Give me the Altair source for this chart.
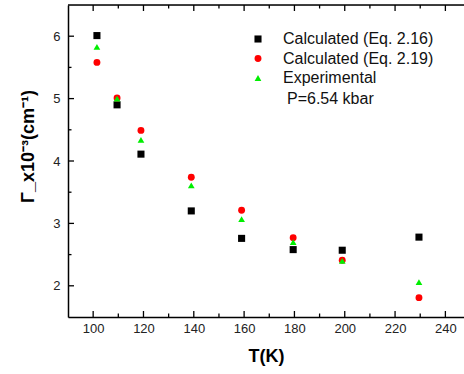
import altair as alt
import pandas as pd

# Linewidth Γ versus temperature at P = 6.54 kbar
temps = [101.5, 109.5, 119, 139, 159, 179.5, 199, 229.5]
eq216 = [6.01, 4.90, 4.11, 3.20, 2.76, 2.58, 2.57, 2.78]
eq219 = [5.58, 5.01, 4.49, 3.74, 3.21, 2.77, 2.41, 1.81]
experimental = [5.83, 5.00, 4.34, 3.61, 3.07, 2.70, 2.40, 2.06]

series_names = ["Calculated (Eq. 2.16)", "Calculated (Eq. 2.19)", "Experimental"]
series_colors = ["#000000", "#ff0000", "#00ee00"]
series_shapes = ["square", "circle", "triangle-up"]
series_sizes = [50, 45, 90]
pressure_note = ["P=6.54 kbar"]

x_major = [100, 120, 140, 160, 180, 200, 220, 240]
x_minor = [110, 130, 150, 170, 190, 210, 230]
y_major = [2, 3, 4, 5, 6]
y_minor = [2.5, 3.5, 4.5, 5.5]

W, H = 396, 312
FONT = "Liberation Sans"

rows = []
for name, vals in zip(series_names, [eq216, eq219, experimental]):
    for t, v in zip(temps, vals):
        rows.append({"T": t, "G": v, "series": name})
df = pd.DataFrame(rows)

xscale = alt.Scale(domain=[90, 247.4], nice=False, zero=False)
yscale = alt.Scale(domain=[1.5, 6.5], nice=False, zero=False)

legend = alt.Legend(
    title=None, orient="none", legendX=182, legendY=26,
    symbolSize=40, labelFontSize=16, labelFont=FONT, labelColor="#111",
    labelOffset=17, rowPadding=3.5, symbolStrokeWidth=0,
)

x_axis = alt.Axis(
    values=x_major, format="d", ticks=False, grid=False,
    domainColor="black", domainWidth=1.5,
    labelFontSize=13, labelColor="#222", labelPadding=5, labelFont=FONT,
    title="T(K)", titleFontSize=18, titleFontWeight="bold", titleFont=FONT,
    titlePadding=12, titleColor="black")
y_axis = alt.Axis(
    values=y_major, format="d", ticks=False, grid=False,
    domainColor="black", domainWidth=1.5,
    labelFontSize=13, labelColor="#222", labelPadding=8, labelFont=FONT,
    title="Γ_x10⁻³(cm⁻¹)", titleFontSize=18, titleFontWeight="bold",
    titleFont=FONT, titleColor="black", titleAngle=-90,
    titleX=-35, titleY=141, titleAlign="center", titleBaseline="alphabetic")

points = alt.Chart(df).mark_point(filled=True, opacity=1).encode(
    x=alt.X("T:Q", scale=xscale, axis=x_axis),
    y=alt.Y("G:Q", scale=yscale, axis=y_axis),
    color=alt.Color("series:N", scale=alt.Scale(domain=series_names, range=series_colors), legend=legend),
    shape=alt.Shape("series:N", scale=alt.Scale(domain=series_names, range=series_shapes), legend=legend),
    size=alt.Size("series:N", scale=alt.Scale(domain=series_names, range=series_sizes), legend=None),
)

def xticks(vals, length):
    d = pd.DataFrame({"T": vals})
    bottom = alt.Chart(d).mark_rule(color="black", strokeWidth=1.3).encode(
        x=alt.X("T:Q", scale=xscale, axis=x_axis), y=alt.value(H), y2=alt.value(H - length))
    top = alt.Chart(d).mark_rule(color="black", strokeWidth=1.3).encode(
        x=alt.X("T:Q", scale=xscale, axis=x_axis), y=alt.value(0), y2=alt.value(length))
    return [bottom, top]

def yticks(vals, length):
    d = pd.DataFrame({"G": vals})
    return [alt.Chart(d).mark_rule(color="black", strokeWidth=1.3).encode(
        y=alt.Y("G:Q", scale=yscale, axis=y_axis), x=alt.value(0), x2=alt.value(length))]

top_line = alt.Chart(pd.DataFrame({"a": [0]})).mark_rule(color="black", strokeWidth=1.5).encode(
    x=alt.value(0), x2=alt.value(W), y=alt.value(0))

note = alt.Chart(pd.DataFrame({"txt": pressure_note})).mark_text(
    align="left", baseline="middle", fontSize=16, font=FONT, color="#111").encode(
    x=alt.value(219), y=alt.value(94), text="txt:N")

layers = [points] + xticks(x_major, 6) + xticks(x_minor, 3.5) + yticks(y_major, 6) + yticks(y_minor, 3.5) + [top_line, note]

chart = alt.layer(*layers).properties(
    width=W, height=H,
    autosize=alt.AutoSizeParams(type="none"),
    padding={"left": 68, "top": 5, "right": 0, "bottom": 57},
).configure_view(stroke=None).configure(background="white")

chart.save("out.html", embed_options={"renderer": "svg", "actions": False})
